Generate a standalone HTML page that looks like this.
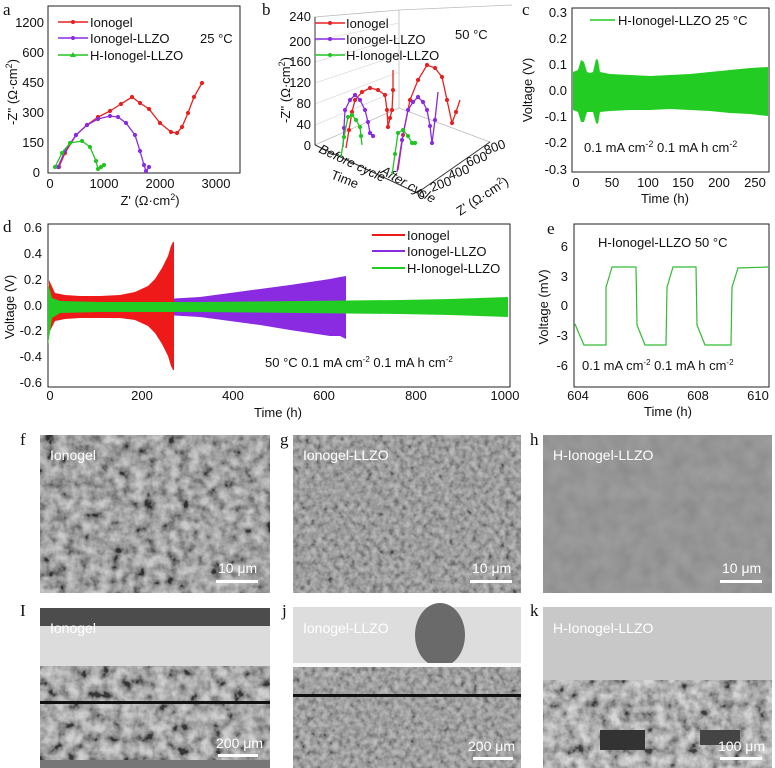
<!DOCTYPE html>
<html><head><meta charset="utf-8"><style>
html,body{margin:0;padding:0;background:#fff;width:775px;height:768px;overflow:hidden}
svg{display:block}
text{font-family:"Liberation Sans",sans-serif;font-size:13px;fill:#111}
.L{font-family:"Liberation Serif",serif;font-size:17px}
.w{fill:#fff;font-size:14px}
</style></head><body>
<svg width="775" height="768" viewBox="0 0 775 768" xmlns="http://www.w3.org/2000/svg">
<defs>
<marker id="mr" markerWidth="4" markerHeight="4" refX="2" refY="2"><circle cx="2" cy="2" r="1.6" fill="#e82020"/></marker>
<marker id="mp" markerWidth="4" markerHeight="4" refX="2" refY="2"><circle cx="2" cy="2" r="1.6" fill="#8a2be2"/></marker>
<marker id="mg" markerWidth="4" markerHeight="4" refX="2" refY="2"><circle cx="2" cy="2" r="1.6" fill="#22c422"/></marker>
<filter id="tex" x="0" y="0" width="100%" height="100%"><feTurbulence type="fractalNoise" baseFrequency="0.09" numOctaves="3" seed="5" result="n"/><feColorMatrix in="n" type="saturate" values="0" result="g"/><feComponentTransfer in="g"><feFuncR type="linear" slope="2.4" intercept="-0.7"/><feFuncG type="linear" slope="2.4" intercept="-0.7"/><feFuncB type="linear" slope="2.4" intercept="-0.7"/><feFuncA type="linear" slope="0" intercept="0.6"/></feComponentTransfer></filter>
<filter id="tex2" x="0" y="0" width="100%" height="100%"><feTurbulence type="fractalNoise" baseFrequency="0.18" numOctaves="2" seed="8" result="n"/><feColorMatrix in="n" type="saturate" values="0"/><feComponentTransfer><feFuncR type="linear" slope="2" intercept="-0.5"/><feFuncG type="linear" slope="2" intercept="-0.5"/><feFuncB type="linear" slope="2" intercept="-0.5"/><feFuncA type="linear" slope="0" intercept="0.45"/></feComponentTransfer></filter>
<filter id="tex3" x="0" y="0" width="100%" height="100%"><feTurbulence type="fractalNoise" baseFrequency="0.06" numOctaves="2" seed="2" result="n"/><feColorMatrix in="n" type="saturate" values="0"/><feComponentTransfer><feFuncA type="linear" slope="0" intercept="0.2"/></feComponentTransfer></filter>
</defs>

<!-- Panel a -->
<text class="L" x="3" y="15">a</text>
<rect x="48" y="6" width="192" height="167" fill="none" stroke="#222" stroke-width="1"/>
<g text-anchor="end"><text x="44" y="27">1200</text><text x="44" y="57">600</text><text x="44" y="87">450</text><text x="44" y="117">300</text><text x="44" y="147">150</text><text x="40" y="177">0</text></g>
<g text-anchor="middle"><text x="50" y="188">0</text><text x="104" y="188">1000</text><text x="160" y="188">2000</text><text x="216" y="188">3000</text></g>
<text x="150" y="205" text-anchor="middle">Z' (Ω·cm<tspan font-size="9" dy="-5">2</tspan><tspan dy="5">)</tspan></text>
<text transform="translate(17,92) rotate(-90)" text-anchor="middle">-Z'' (Ω·cm<tspan font-size="9" dy="-5">2</tspan><tspan dy="5">)</tspan></text>
<polyline fill="none" stroke="#e82020" stroke-width="1.3" marker-start="url(#mr)" marker-mid="url(#mr)" marker-end="url(#mr)" points="59,167 65,153 76,135 87,125 98,117 110,111 121,104 132,97 140,103 149,109 160,123 171,132 177,133 182,127 188,113 194,97 202,83"/>
<polyline fill="none" stroke="#8a2be2" stroke-width="1.3" marker-start="url(#mp)" marker-mid="url(#mp)" marker-end="url(#mp)" points="58,167 65,151 76,135 87,125 98,119 110,116 118,117 126,123 135,135 140,151 144,165 146,171 149,167"/>
<polyline fill="none" stroke="#22c422" stroke-width="1.3" marker-start="url(#mg)" marker-mid="url(#mg)" marker-end="url(#mg)" points="55,167 62,153 70,143 82,141 90,147 96,161 98,169 101,167 104,165"/>
<line x1="58" y1="22" x2="88" y2="22" stroke="#e82020" stroke-width="1.5"/><circle cx="73" cy="22" r="2" fill="#e82020"/>
<line x1="58" y1="38" x2="88" y2="38" stroke="#8a2be2" stroke-width="1.5"/><circle cx="73" cy="38" r="2" fill="#8a2be2"/>
<line x1="58" y1="55" x2="88" y2="55" stroke="#22c422" stroke-width="1.5"/><polygon points="73,52 76,57 70,57" fill="#22c422"/>
<text x="90" y="27">Ionogel</text><text x="90" y="43">Ionogel-LLZO</text><text x="90" y="60">H-Ionogel-LLZO</text>
<text x="200" y="43">25 °C</text>

<!-- Panel b -->
<text class="L" x="262" y="15">b</text>
<g stroke="#bbb" stroke-width="0.8" fill="none">
<polyline points="315,145 315,17 399,10 512,5"/>
<line x1="399" y1="10" x2="399" y2="108"/>
<line x1="315" y1="145" x2="399" y2="108"/><line x1="399" y1="108" x2="490" y2="142"/>
<line x1="315" y1="125" x2="399" y2="90" stroke="#ddd"/><line x1="315" y1="104" x2="399" y2="72" stroke="#ddd"/><line x1="315" y1="83" x2="399" y2="55" stroke="#ddd"/><line x1="315" y1="62" x2="399" y2="38" stroke="#ddd"/><line x1="315" y1="41" x2="399" y2="23" stroke="#ddd"/>
</g>
<line x1="315" y1="145" x2="315" y2="17" stroke="#333"/>
<line x1="315" y1="145" x2="417" y2="193" stroke="#333"/><line x1="417" y1="193" x2="490" y2="142" stroke="#333"/>
<g text-anchor="end" font-size="12"><text x="311" y="21">240</text><text x="311" y="46">200</text><text x="311" y="66">160</text><text x="311" y="87">120</text><text x="311" y="108">80</text><text x="311" y="129">40</text><text x="311" y="150">0</text></g>
<text transform="translate(290,90) rotate(-90)" text-anchor="middle">-Z'' (Ω·cm<tspan font-size="9" dy="-5">2</tspan><tspan dy="5">)</tspan></text>
<g font-size="9"><text transform="translate(419,200) rotate(-20)">0</text><text transform="translate(432,192) rotate(-20)">200</text><text transform="translate(450,180) rotate(-20)">400</text><text transform="translate(468,167) rotate(-20)">600</text><text transform="translate(486,155) rotate(-20)">800</text></g>
<text transform="translate(460,216) rotate(-33)">Z' (Ω·cm<tspan font-size="9" dy="-5">2</tspan><tspan dy="5">)</tspan></text>
<text transform="translate(318,152) rotate(25)" font-size="10" font-style="italic">Before cycle</text>
<text transform="translate(380,173) rotate(30)" font-size="10" font-style="italic">After cycle</text>
<text transform="translate(330,178) rotate(22)">Time</text>
<polyline fill="none" stroke="#e82020" stroke-width="1.3" marker-mid="url(#mr)" points="346,148 349,130 352,112 355,100 362,92 370,88 378,90 385,95 387,110 388,127 390,118 392,110 393,90 393,70"/>
<polyline fill="none" stroke="#8a2be2" stroke-width="1.3" marker-mid="url(#mp)" points="343,147 344,128 345,110 350,100 355,95 360,100 365,110 368,122 370,133 373,136 375,137"/>
<polyline fill="none" stroke="#22c422" stroke-width="1.3" marker-mid="url(#mg)" points="341,157 344,137 348,117 352,115 356,120 360,127 361,136 362,145"/>
<polyline fill="none" stroke="#e82020" stroke-width="1.3" marker-mid="url(#mr)" points="398,170 403,135 410,100 418,80 427,65 435,68 442,77 447,100 452,123 456,112 460,100"/>
<polyline fill="none" stroke="#8a2be2" stroke-width="1.3" marker-mid="url(#mp)" points="397,172 402,140 408,110 413,102 418,97 423,102 427,110 430,126 432,143 435,120 438,92"/>
<polyline fill="none" stroke="#22c422" stroke-width="1.3" marker-mid="url(#mg)" points="392,175 395,154 398,133 403,130 408,136 412,143 415,143 417,142"/>
<line x1="315" y1="23" x2="345" y2="23" stroke="#e82020" stroke-width="1.5"/><circle cx="330" cy="23" r="2" fill="#e82020"/>
<line x1="315" y1="39" x2="345" y2="39" stroke="#8a2be2" stroke-width="1.5"/><circle cx="330" cy="39" r="2" fill="#8a2be2"/>
<line x1="315" y1="55" x2="345" y2="55" stroke="#22c422" stroke-width="1.5"/><circle cx="330" cy="55" r="2" fill="#22c422"/>
<text x="346" y="28">Ionogel</text><text x="346" y="44">Ionogel-LLZO</text><text x="346" y="60">H-Ionogel-LLZO</text>
<text x="455" y="39">50 °C</text>

<!-- Panel c -->
<text class="L" x="522" y="15">c</text>
<rect x="572" y="8" width="197" height="164" fill="none" stroke="#222"/>
<g text-anchor="end" font-size="12"><text x="567" y="17">0.3</text><text x="567" y="43">0.2</text><text x="567" y="69">0.1</text><text x="567" y="95">0.0</text><text x="567" y="121">-0.1</text><text x="567" y="147">-0.2</text><text x="567" y="174">-0.3</text></g>
<g text-anchor="middle" font-size="12"><text x="576" y="187">0</text><text x="612" y="187">50</text><text x="648" y="187">100</text><text x="683" y="187">150</text><text x="719" y="187">200</text><text x="755" y="187">250</text></g>
<text x="665" y="203" text-anchor="middle">Time (h)</text>
<text transform="translate(532,90) rotate(-90)" text-anchor="middle">Voltage (V)</text>
<polygon fill="#22cc22" points="573,72 578,70 581,60 584,62 587,72 590,73 593,72 596,59 598,60 600,72 610,74 630,75 650,76 670,75 690,74 710,72 730,70 750,68 768,67 768,116 750,114 730,113 710,111 690,110 670,109 650,110 630,110 610,111 600,112 598,124 596,123 593,112 587,112 584,122 581,122 578,112 573,110"/>
<line x1="590" y1="20" x2="615" y2="20" stroke="#22cc22" stroke-width="1.5"/>
<text x="618" y="25">H-Ionogel-LLZO  25 °C</text>
<text x="584" y="152">0.1 mA cm<tspan font-size="9" dy="-5">-2</tspan><tspan dy="5">  0.1 mA h cm</tspan><tspan font-size="9" dy="-5">-2</tspan></text>

<!-- Panel d -->
<text class="L" x="3" y="232">d</text>
<rect x="48" y="224" width="462" height="163" fill="none" stroke="#222"/>
<g text-anchor="end" font-size="12"><text x="42" y="232">0.6</text><text x="42" y="258">0.4</text><text x="42" y="284">0.2</text><text x="42" y="310">0.0</text><text x="42" y="335">-0.2</text><text x="42" y="361">-0.4</text><text x="42" y="387">-0.6</text></g>
<g text-anchor="middle" font-size="12"><text x="50" y="400">0</text><text x="142" y="400">200</text><text x="233" y="400">400</text><text x="324" y="400">600</text><text x="416" y="400">800</text><text x="505" y="400">1000</text></g>
<text x="278" y="417" text-anchor="middle">Time (h)</text>
<text transform="translate(14,307) rotate(-90)" text-anchor="middle">Voltage (V)</text>
<polygon fill="#8a2be2" points="49,285 55,297 60,298 100,300 140,300 165,299 200,297 230,293 260,289 290,285 310,282 330,279 340,277 346,276 346,339 340,336 330,336 310,333 290,330 260,325 230,321 200,317 165,315 140,314 100,314 60,316 55,317 49,330"/>
<polygon fill="#ee1a1a" points="49,280 55,293 65,295 80,296 100,296 120,295 135,292 148,286 155,279 162,268 168,256 171,246 173,242 174,242 174,370 173,370 171,366 168,356 162,344 155,333 148,326 135,320 120,318 100,318 80,318 65,319 55,321 49,333"/>
<polygon fill="#22cc22" points="48,283 52,298 60,301 100,302 200,302 300,301 400,300 450,299 508,297 508,317 450,315 400,314 300,313 200,312 100,312 60,313 52,318 48,345"/>
<line x1="372" y1="235" x2="405" y2="235" stroke="#ee1a1a" stroke-width="2"/>
<line x1="372" y1="251" x2="405" y2="251" stroke="#8a2be2" stroke-width="2"/>
<line x1="372" y1="268" x2="405" y2="268" stroke="#22cc22" stroke-width="2"/>
<text x="407" y="240" font-size="12">Ionogel</text><text x="407" y="256" font-size="12">Ionogel-LLZO</text><text x="407" y="273" font-size="12">H-Ionogel-LLZO</text>
<text x="265" y="367" font-size="12">50 °C   0.1 mA cm<tspan font-size="8" dy="-5">-2</tspan><tspan dy="5">   0.1 mA h cm</tspan><tspan font-size="8" dy="-5">-2</tspan></text>

<!-- Panel e -->
<text class="L" x="547" y="234">e</text>
<rect x="574" y="224" width="195" height="163" fill="none" stroke="#222"/>
<g text-anchor="end" font-size="12"><text x="568" y="251">6</text><text x="568" y="281">3</text><text x="568" y="310">0</text><text x="568" y="340">-3</text><text x="568" y="370">-6</text></g>
<g text-anchor="middle" font-size="12"><text x="578" y="400">604</text><text x="638" y="400">606</text><text x="698" y="400">608</text><text x="758" y="400">610</text></g>
<text x="668" y="416" text-anchor="middle">Time (h)</text>
<text transform="translate(548,307) rotate(-90)" text-anchor="middle">Voltage (mV)</text>
<polyline fill="none" stroke="#33bb33" stroke-width="1.2" points="575,324 580,336 584,345 606,345 606,287 607,284 612,267 636,267 637,325 645,345 666,345 667,287 668,284 673,267 696,267 697,325 705,345 731,345 732,287 733,284 738,268 769,267"/>
<text x="598" y="247" font-size="12">H-Ionogel-LLZO  50 °C</text>
<text x="582" y="370" font-size="12">0.1 mA cm<tspan font-size="8" dy="-5">-2</tspan><tspan dy="5">  0.1 mA h cm</tspan><tspan font-size="8" dy="-5">-2</tspan></text>

<!-- SEM panels -->
<text class="L" x="20" y="445">f</text><text class="L" x="280" y="445">g</text><text class="L" x="530" y="445">h</text>
<text class="L" x="20" y="616">I</text><text class="L" x="282" y="616">j</text><text class="L" x="530" y="616">k</text>

<rect x="40" y="435" width="230" height="158" fill="#7a7a7a"/>
<rect x="40" y="435" width="230" height="158" filter="url(#tex)"/>
<rect x="293" y="435" width="228" height="158" fill="#848484"/>
<rect x="293" y="435" width="228" height="158" filter="url(#tex2)"/>
<rect x="543" y="435" width="229" height="158" fill="#8c8c8c"/>
<rect x="543" y="435" width="229" height="158" filter="url(#tex3)"/>

<rect x="40" y="608" width="230" height="160" fill="#888"/>
<rect x="40" y="608" width="230" height="20" fill="#4c4c4c"/>
<rect x="40" y="626" width="230" height="40" fill="#dcdcdc"/>
<rect x="40" y="666" width="230" height="102" filter="url(#tex)"/>
<rect x="40" y="701" width="230" height="3" fill="#111"/>
<rect x="40" y="760" width="230" height="8" fill="#777"/>

<rect x="293" y="607" width="228" height="161" fill="#888"/>
<rect x="293" y="607" width="228" height="58" fill="#dddddd"/>
<ellipse cx="440" cy="635" rx="25" ry="32" fill="#6a6a6a"/>
<rect x="293" y="663" width="228" height="4" fill="#fafafa"/>
<rect x="293" y="667" width="228" height="101" filter="url(#tex2)"/>
<rect x="293" y="694" width="228" height="3" fill="#111"/>

<rect x="543" y="607" width="229" height="161" fill="#c8c8c8"/>
<rect x="543" y="680" width="229" height="88" fill="#999"/>
<rect x="543" y="680" width="229" height="88" filter="url(#tex)"/>
<rect x="600" y="730" width="45" height="20" fill="#333"/><rect x="700" y="730" width="40" height="15" fill="#444"/>

<text class="w" x="50" y="460">Ionogel</text><text class="w" x="303" y="460">Ionogel-LLZO</text><text class="w" x="553" y="460">H-Ionogel-LLZO</text>
<text class="w" x="50" y="633">Ionogel</text><text class="w" x="303" y="633">Ionogel-LLZO</text><text class="w" x="553" y="633">H-Ionogel-LLZO</text>
<g fill="#fff">
<text class="w" x="218" y="573" font-size="13">10 μm</text><rect x="216" y="580" width="42" height="3"/>
<text class="w" x="472" y="573" font-size="13">10 μm</text><rect x="470" y="580" width="42" height="3"/>
<text class="w" x="722" y="573" font-size="13">10 μm</text><rect x="720" y="580" width="42" height="3"/>
<text class="w" x="216" y="748" font-size="13">200 μm</text><rect x="218" y="754" width="40" height="3"/>
<text class="w" x="468" y="751" font-size="13">200 μm</text><rect x="473" y="757" width="40" height="3"/>
<text class="w" x="718" y="751" font-size="13">100 μm</text><rect x="720" y="757" width="42" height="3"/>
</g>
</svg>
</body></html>
